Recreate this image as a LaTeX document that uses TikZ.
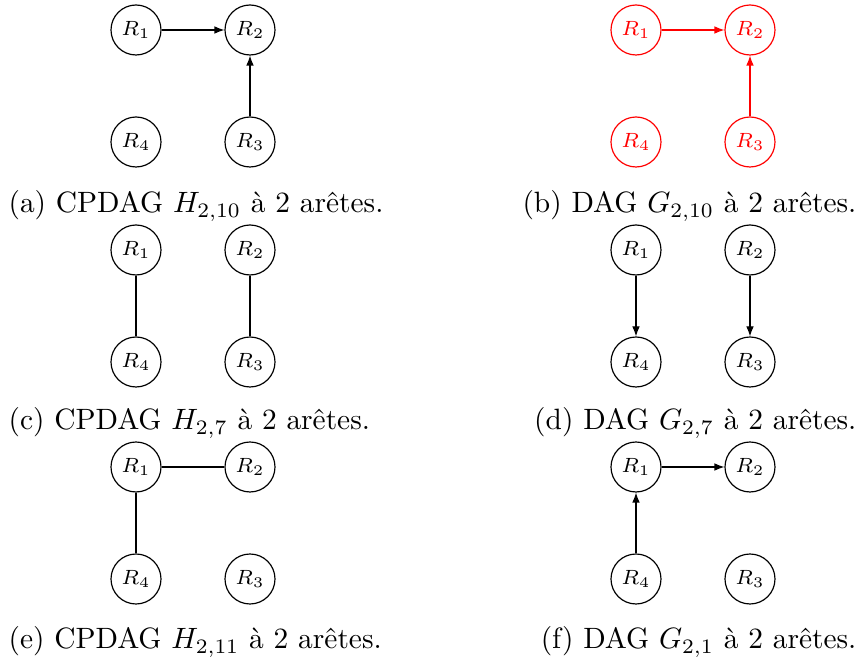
\documentclass[tikz,border=0pt]{standalone}
\usetikzlibrary{arrows.meta}

\begin{document}
\begin{tikzpicture}[x=0.34pt, y=-0.34pt,
    var/.style={draw, circle, minimum size=17pt, inner sep=0pt, font=\scriptsize},
    arc/.style={-{Latex[length=3.4pt, width=2.6pt]}},
    subcap/.style={inner sep=0pt}]
  \useasboundingbox (0,0) rectangle (857,664);
  % the four variables of every panel
  \foreach \p/\x/\y/\col in {a/136/30/black, b/636/30/red, c/136/250/black, d/636/250/black, e/136/467/black, f/636/467/black} {
    \node[var, \col] (\p1) at (\x,\y) {$R_1$};
    \node[var, \col] (\p2) at (\x+114,\y) {$R_2$};
    \node[var, \col] (\p4) at (\x,\y+112) {$R_4$};
    \node[var, \col] (\p3) at (\x+114,\y+112) {$R_3$};
  }
  % edges
  \draw[arc] (a1) -- (a2);
  \draw[arc] (a3) -- (a2);
  \draw[arc, red] (b1) -- (b2);
  \draw[arc, red] (b3) -- (b2);
  \draw (c1) -- (c4);
  \draw (c2) -- (c3);
  \draw[arc] (d1) -- (d4);
  \draw[arc] (d2) -- (d3);
  \draw (e1) -- (e2);
  \draw (e1) -- (e4);
  \draw[arc] (f1) -- (f2);
  \draw[arc] (f4) -- (f1);
  % captions
  \node[subcap, anchor=base west] (capa) at (8,213) {(a) CPDAG $H_{2,10}$ à 2 arêtes.};
  \node[subcap, anchor=base east] (capb) at (857,213) {(b) DAG $G_{2,10}$ à 2 arêtes.};
  \node[subcap, anchor=base west] (capc) at (8,430) {(c) CPDAG $H_{2,7}$ à 2 arêtes.};
  \node[subcap, anchor=base east] (capd) at (857,430) {(d) DAG $G_{2,7}$ à 2 arêtes.};
  \node[subcap, anchor=base west] (cape) at (8,649) {(e) CPDAG $H_{2,11}$ à 2 arêtes.};
  \node[subcap, anchor=base east] (capf) at (857,649) {(f) DAG $G_{2,1}$ à 2 arêtes.};
\end{tikzpicture}
\end{document}
